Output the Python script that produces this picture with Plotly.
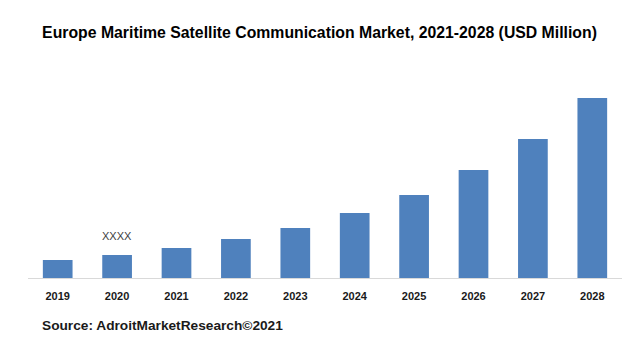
import plotly.graph_objects as go

years = ["2019", "2020", "2021", "2022", "2023", "2024", "2025", "2026", "2027", "2028"]
values = [18, 23, 30, 39, 50, 65, 83, 108, 139, 180]
title_text = "Europe Maritime Satellite Communication Market, 2021-2028 (USD Million)"
source_text = "Source: AdroitMarketResearch©2021"
note_year = "2020"
note_text = "XXXX"

W, H = 639, 344
ml, mr, mt, mb = 28, 17, 78, 66
ph = H - mt - mb

fig = go.Figure(go.Bar(x=years, y=values, marker_color="#4f81bd", marker_line_width=0))

fig.update_layout(
    width=W, height=H,
    margin=dict(l=ml, r=mr, t=mt, b=mb),
    plot_bgcolor="white", paper_bgcolor="white",
    bargap=0.5,
    showlegend=False,
    title=dict(text="<b>" + title_text + "</b>", x=0.5, xanchor="center",
               y=1 - 32 / H, yanchor="middle",
               font=dict(family="Liberation Sans, Arial", size=15.8, color="#000000")),
    xaxis=dict(type="category", categoryorder="array", categoryarray=years,
               range=[-0.5, len(years) - 0.5],
               showline=True, linecolor="#d9d9d9", linewidth=1, showgrid=False,
               tickfont=dict(family="Liberation Sans, Arial", size=11, color="#1a1a1a"),
               ticks="outside", ticklen=8, tickcolor="rgba(0,0,0,0)"),
    yaxis=dict(visible=False, range=[0, 200], showgrid=False),
)
fig.update_xaxes(tickvals=years, ticktext=["<b>" + y + "</b>" for y in years])

idx = years.index(note_year)
fig.add_annotation(x=idx, y=values[idx], yref="y", xref="x",
                   text=note_text, showarrow=False, yanchor="bottom", yshift=11,
                   font=dict(family="Liberation Sans, Arial", size=11, color="#404040"))
fig.add_annotation(xref="paper", yref="paper", x=(40 - ml) / (W - ml - mr), y=(278 - 325) / ph,
                   xanchor="left", yanchor="middle", showarrow=False,
                   text="<b>" + source_text + "</b>",
                   font=dict(family="Liberation Sans, Arial", size=13.7, color="#1a1a1a"))

fig.write_html("out.html")
